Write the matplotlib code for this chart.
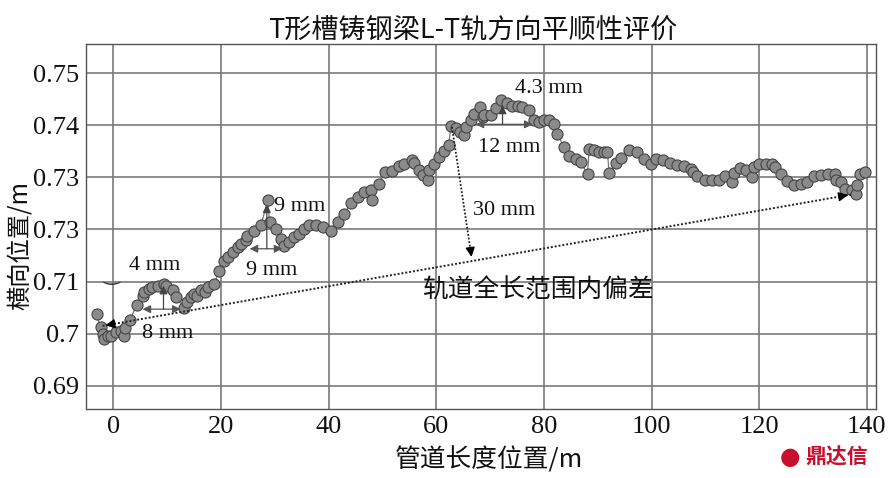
import numpy as np
import matplotlib
matplotlib.use("Agg")
import matplotlib.pyplot as plt

# measured points: pipe length position (m) vs lateral position (m)
pos_x = [
    -3.1, -2.4, -2.0, -1.7, -1.1, -0.5, 0.4, 1.4, 2.0, 2.1, 3.1, 4.3, 5.4, 5.7,
    6.6, 7.2, 8.2, 9.4, 9.7, 11.0, 11.6, 13.1, 13.7, 14.4, 15.0, 15.6, 16.2,
    17.1, 17.5, 18.7, 19.7, 20.6, 21.2, 22.2, 23.1, 23.7, 24.6, 24.9, 26.2,
    27.4, 28.7, 29.0, 30.2, 31.1, 31.7, 32.7, 33.6, 34.5, 35.5, 36.4, 37.6,
    38.9, 40.4, 41.7, 42.9, 44.1, 45.4, 46.6, 47.8, 48.0, 49.3, 50.5, 51.7,
    53.1, 54.0, 55.5, 55.9, 56.7, 57.6, 58.4, 58.7, 59.6, 60.5, 61.5, 62.3,
    62.7, 63.6, 64.4, 65.2, 65.5, 66.4, 67.0, 68.1, 68.6, 68.9, 70.1, 71.1,
    72.1, 73.2, 74.1, 75.1, 76.0, 77.2, 78.2, 79.1, 80.0, 81.0, 81.9, 82.5,
    83.7, 84.7, 85.9, 86.8, 88.1, 88.4, 89.3, 90.2, 91.2, 91.8, 92.1, 93.3,
    94.4, 95.8, 97.2, 98.6, 99.8, 100.9, 102.1, 103.4, 104.8, 106.0, 107.3,
    107.6, 108.5, 109.9, 111.3, 112.6, 113.7, 114.9, 115.3, 116.4, 117.5,
    118.7, 119.0, 120.0, 121.2, 122.4, 123.0, 124.1, 125.2, 126.4, 127.7,
    128.9, 130.2, 131.4, 132.8, 134.1, 134.3, 135.1, 135.9, 137.3, 138.0,
    138.2, 138.8, 139.6,
]
pos_y = [
    0.7038, 0.7012, 0.7000, 0.6990, 0.6996, 0.6996, 0.7003, 0.7006, 0.6996,
    0.7010, 0.7027, 0.7055, 0.7073, 0.7080, 0.7086, 0.7090, 0.7092, 0.7096,
    0.7092, 0.7083, 0.7070, 0.7050, 0.7060, 0.7070, 0.7076, 0.7073, 0.7083,
    0.7080, 0.7090, 0.7096, 0.7121, 0.7140, 0.7147, 0.7156, 0.7166, 0.7172,
    0.7179, 0.7188, 0.7198, 0.7208, 0.7256, 0.7214, 0.7201, 0.7182, 0.7169,
    0.7176, 0.7185, 0.7192, 0.7201, 0.7208, 0.7208, 0.7204, 0.7198, 0.7214,
    0.7230, 0.7250, 0.7262, 0.7272, 0.7275, 0.7257, 0.7288, 0.7310, 0.7313,
    0.7321, 0.7325, 0.7334, 0.7327, 0.7315, 0.7304, 0.7296, 0.7315, 0.7325,
    0.7340, 0.7351, 0.7362, 0.7398, 0.7394, 0.7387, 0.7381, 0.7397, 0.7410,
    0.7422, 0.7435, 0.7416, 0.7419, 0.7419, 0.7433, 0.7448, 0.7442, 0.7438,
    0.7438, 0.7435, 0.7429, 0.7410, 0.7406, 0.7410, 0.7410, 0.7403, 0.7384,
    0.7358, 0.7342, 0.7336, 0.7329, 0.7307, 0.7355, 0.7352, 0.7349, 0.7349,
    0.7349, 0.7308, 0.7328, 0.7338, 0.7352, 0.7349, 0.7336, 0.7326, 0.7336,
    0.7334, 0.7328, 0.7323, 0.7321, 0.7317, 0.7311, 0.7302, 0.7296, 0.7296,
    0.7296, 0.7302, 0.7291, 0.7308, 0.7319, 0.7315, 0.7301, 0.7320, 0.7325,
    0.7325, 0.7326, 0.7320, 0.7307, 0.7294, 0.7285, 0.7288, 0.7291, 0.7302,
    0.7305, 0.7307, 0.7307, 0.7296, 0.7291, 0.7278, 0.7276, 0.7269, 0.7285,
    0.7307, 0.7310,
]

x_ticks = [0, 20, 40, 60, 80, 100, 120, 140]
y_ticks = [0.75, 0.74, 0.73, 0.72, 0.71, 0.70, 0.69]
y_tick_labels = ["0.75", "0.74", "0.73", "0.73", "0.71", "0.7", "0.69"]

cjk = ["Noto Sans CJK SC", "DejaVu Sans"]
serif = ["Liberation Serif", "DejaVu Serif"]

fig = plt.figure(figsize=(8.93, 4.78), dpi=100)
ax = fig.add_axes([0.0963, 0.1444, 0.8847, 0.7636])

ax.set_xlim(-5.1, 141.7)
ax.set_ylim(0.68553, 0.75563)
ax.set_xticks(x_ticks)
ax.set_yticks(y_ticks)
ax.set_yticklabels(y_tick_labels)
ax.tick_params(length=0, labelsize=19, pad=5, labelcolor="#111111")
for lab in ax.get_xticklabels() + ax.get_yticklabels():
    lab.set_family(serif)
ax.grid(True, color="#7a7a7a", lw=1.2)
ax.set_axisbelow(True)
for s in ax.spines.values():
    s.set_color("#555555")
    s.set_linewidth(1.0)

ax.plot(pos_x, pos_y, "-", color="#777777", lw=0.9, zorder=2)
ax.plot(pos_x, pos_y, "o", ms=8, mfc="#8a8a8a", mec="#454545", mew=0.8, zorder=3)

# whole-length deviation line (dotted, arrows at both ends)
p0 = (-2.0, 0.7015)
p1 = (137.0, 0.7267)
ax.plot([p0[0], p1[0]], [p0[1], p1[1]], linestyle=(0, (1, 1)), color="#222222",
        lw=1.4, zorder=4)
head = dict(arrowstyle="-|>", color="black", lw=1.0, mutation_scale=14)
ax.annotate("", xy=p0, xytext=(p0[0] + 2, p0[1] + 0.00036), arrowprops=head, zorder=5)
ax.annotate("", xy=p1, xytext=(p1[0] - 2, p1[1] - 0.00036), arrowprops=head, zorder=5)

# 30 mm drop arrow
ax.plot([62.9, 66.5], [0.7397, 0.7150], linestyle=(0, (1, 1)), color="#222222",
        lw=1.3, zorder=4)
ax.annotate("", xy=(66.6, 0.7142), xytext=(66.3, 0.7165), arrowprops=head, zorder=5)

dbl = dict(arrowstyle="<|-|>", color="#555555", lw=0.9, mutation_scale=12,
           shrinkA=0, shrinkB=0)
up = dict(arrowstyle="-|>", color="#444444", lw=0.9, mutation_scale=12,
          shrinkA=0, shrinkB=0)

# local deviations: horizontal span plus vertical rise
ax.annotate("", xy=(5.4, 0.7047), xytext=(12.5, 0.7047), arrowprops=dbl, zorder=5)
ax.annotate("", xy=(9.3, 0.7092), xytext=(9.3, 0.7047), arrowprops=up, zorder=5)
ax.annotate("", xy=(25.3, 0.7163), xytext=(31.4, 0.7163), arrowprops=dbl, zorder=5)
ax.annotate("", xy=(28.5, 0.7248), xytext=(28.5, 0.7163), arrowprops=up, zorder=5)
ax.annotate("", xy=(67.3, 0.7402), xytext=(77.9, 0.7402), arrowprops=dbl, zorder=5)
ax.annotate("", xy=(72.3, 0.7438), xytext=(72.3, 0.7402), arrowprops=up, zorder=5)

tkw = dict(family=serif, fontsize=16, color="#111111", ha="center", va="center", zorder=6)
ax.text(7.6, 0.7131, "4 mm", **tkw)
ax.text(10.0, 0.7000, "8 mm", **tkw)
ax.text(34.6, 0.7245, "9 mm", **tkw)
ax.text(29.3, 0.7121, "9 mm", **tkw)
ax.text(81.0, 0.7471, "4.3 mm", **tkw)
ax.text(73.5, 0.7358, "12 mm", **tkw)
ax.text(72.6, 0.7237, "30 mm", **tkw)
ax.text(79.1, 0.7083, "轨道全长范围内偏差", family=cjk, fontsize=18.5,
        color="#111111", ha="center", va="center", zorder=6)
ax.text(-0.4, 0.7112, "‿", family=["DejaVu Sans"], fontsize=14,
        color="#333333", ha="center", va="center")

ax.set_title("T形槽铸钢梁L-T轨方向平顺性评价", family=cjk, fontsize=19.5,
             color="#111111", pad=4, x=0.49)
ax.set_xlabel("管道长度位置/m", family=cjk, fontsize=18.5, color="#111111")
ax.xaxis.set_label_coords(0.51, -0.105)
ax.set_ylabel("横向位置/m", family=cjk, fontsize=17.5, color="#111111")
ax.yaxis.set_label_coords(-0.066, 0.447)

# watermark
fig.text(0.902, 0.043, "鼎达信", family=cjk, fontsize=15, fontweight="bold",
         color="#c8102e", ha="left", va="center")
fig.text(0.885, 0.043, "●", family=["DejaVu Sans"], fontsize=17,
         color="#c8102e", ha="center", va="center")

fig.savefig("out.png", dpi=100)
